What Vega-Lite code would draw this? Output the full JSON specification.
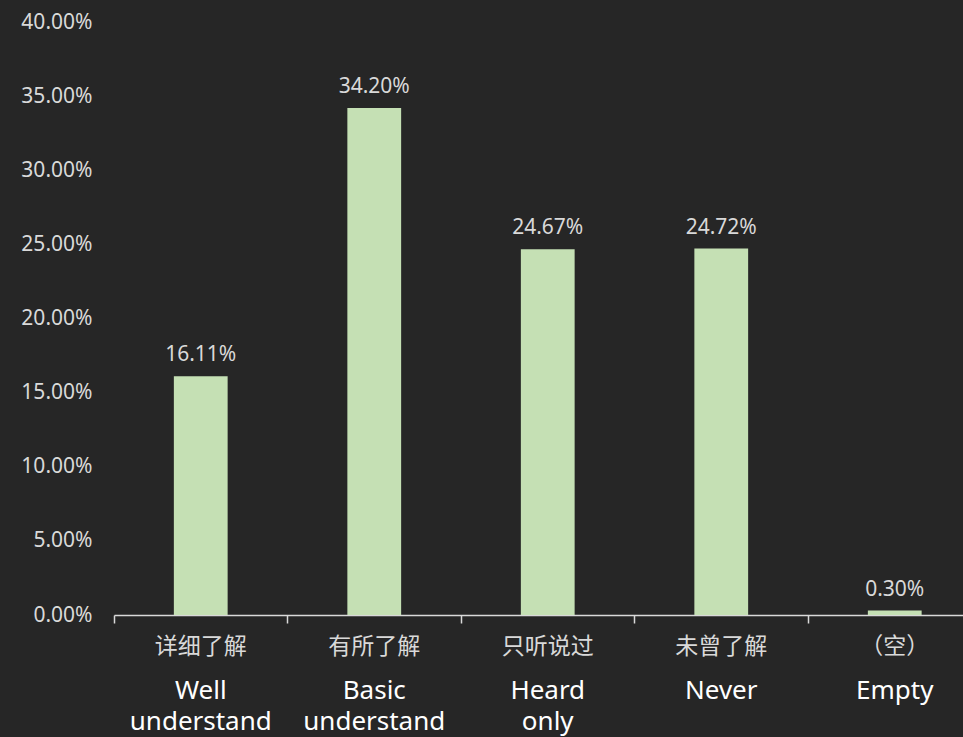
{
  "$schema": "https://vega.github.io/schema/vega-lite/v6.json",
  "autosize": {"type": "none"},
  "padding": {"left": 114, "top": 22, "right": 0, "bottom": 122},
  "width": 849,
  "height": 593,
  "background": "#262626",
  "config": {
    "view": {"stroke": null},
    "font": "Noto Sans",
    "axis": {"grid": false, "title": null}
  },
  "data": {
    "values": [
      {"cn": "详细了解", "en": "Well understand", "share": 0.1611},
      {"cn": "有所了解", "en": "Basic understand", "share": 0.342},
      {"cn": "只听说过", "en": "Heard only", "share": 0.2467},
      {"cn": "未曾了解", "en": "Never", "share": 0.2472},
      {"cn": "（空）", "en": "Empty", "share": 0.003}
    ]
  },
  "resolve": {"axis": {"x": "independent"}},
  "layer": [
    {
      "mark": {"type": "bar", "color": "#c5e0b4", "width": {"band": 0.31}},
      "encoding": {
        "x": {
          "field": "cn",
          "type": "nominal",
          "sort": null,
          "scale": {"range": [0, 867.5], "paddingInner": 0, "paddingOuter": 0},
          "axis": {
            "orient": "bottom",
            "labelAngle": 0,
            "bandPosition": 0,
            "domainColor": "#d9d9d9",
            "domainWidth": 1.5,
            "tickColor": "#d9d9d9",
            "tickWidth": 1.5,
            "tickSize": 8,
            "labelPadding": 12,
            "labelFont": "Noto Sans CJK SC",
            "labelFontSize": 23,
            "labelColor": "#d9d9d9"
          }
        },
        "y": {
          "field": "share",
          "type": "quantitative",
          "scale": {"domain": [0, 0.4], "nice": false},
          "axis": {
            "values": [0, 0.05, 0.1, 0.15, 0.2, 0.25, 0.3, 0.35, 0.4],
            "format": ".2%",
            "domain": false,
            "ticks": false,
            "labelPadding": 22,
            "labelFontSize": 21,
            "labelColor": "#d9d9d9"
          }
        }
      }
    },
    {
      "mark": {"type": "text", "baseline": "alphabetic", "dy": -15, "fontSize": 21, "color": "#d9d9d9"},
      "encoding": {
        "x": {
          "field": "cn",
          "type": "nominal",
          "sort": null,
          "axis": {
            "orient": "bottom",
            "labelAngle": 0,
            "domain": false,
            "ticks": false,
            "labelPadding": 62,
            "labelFontSize": 26,
            "labelLineHeight": 31,
            "labelColor": "#ffffff",
            "labelExpr": "datum.value == '详细了解' ? ['Well', 'understand'] : datum.value == '有所了解' ? ['Basic', 'understand'] : datum.value == '只听说过' ? ['Heard', 'only'] : datum.value == '未曾了解' ? 'Never' : 'Empty'"
          }
        },
        "y": {"field": "share", "type": "quantitative"},
        "text": {"field": "share", "type": "quantitative", "format": ".2%"}
      }
    }
  ]
}
